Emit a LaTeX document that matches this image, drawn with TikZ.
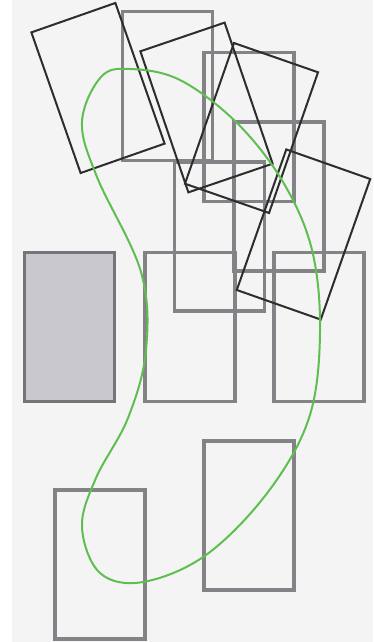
\documentclass[tikz,border=0pt]{standalone}
\usepackage{xcolor}
\usepackage{tikz}
\usetikzlibrary{shapes,positioning}
\definecolor{bggray}{RGB}{244,244,244}
\definecolor{framegray}{RGB}{130,130,135}
\definecolor{shadegray}{RGB}{200,200,205}
\definecolor{tiltblack}{RGB}{45,45,45}
\definecolor{loopgreen}{RGB}{95,190,80}

\begin{document}
\begin{tikzpicture}[
    x=1pt, y=-1pt,
    box/.style={rectangle, draw=framegray, line width=3.1pt, minimum width=90pt, minimum height=149pt, inner sep=0pt, outer sep=0pt},
    tilted/.style={rectangle, draw=tiltblack, line width=2pt, minimum width=89pt, minimum height=149pt, inner sep=0pt, outer sep=0pt}
]

% Canvas
\useasboundingbox (0,0) rectangle (373,642);
\fill[white] (0,0) rectangle (373,642);
\fill[bggray] (12,0) rectangle (373,642);

% Upright frames
\node[box, fill=shadegray, draw=framegray!90!black, line width=3.8pt] (shaded) at (69.5,327) {};
\node[box] (midrow) at (190,327) {};
\node[box] (rightrow) at (319,327) {};
\node[box] (lowleft) at (100,564.5) {};
\node[box] (lowright) at (249,515.5) {};
\node[box] (topA) at (167.5,86) {};
\node[box] (topB) at (249,127) {};
\node[box] (topC) at (279,196.5) {};
\node[box] (topD) at (219.5,236.5) {};

% Tilted frames
\node[tilted, rotate=19.3] (tiltA) at (98,88) {};
\node[tilted, rotate=18.8] (tiltB) at (206.5,107.5) {};
\node[tilted, rotate=-19.2] (tiltC) at (251.5,128) {};
\node[tilted, rotate=-19.4] (tiltD) at (303.5,234.5) {};

% Outline
\draw[loopgreen, line width=2pt] plot[smooth cycle, tension=0.6] coordinates {
    (130,69) (180,80) (237,123) (283,182) (312,250) (320,333)
    (309,418) (268,492) (206,555) (143,582) (100,573) (82,527)
    (96,478) (128,418) (146,350) (141,272) (97,177) (82,122) (101,77)};

\end{tikzpicture}
\end{document}
